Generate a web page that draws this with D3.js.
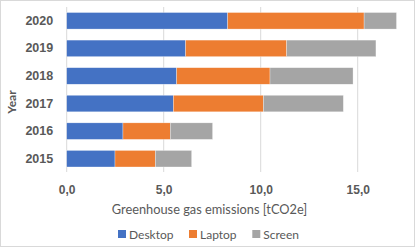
<!DOCTYPE html>
<html>
<head>
<meta charset="utf-8">
<script src="https://cdn.jsdelivr.net/npm/d3@7"></script>
<style>
    body { margin: 0; background: #fff; }
    svg { display: block; font-family: Lato, "Open Sans", sans-serif; }
</style>
</head>
<body>
<svg id="chart"></svg>
<script>
const years = ["2015", "2016", "2017", "2018", "2019", "2020"];
const desktop = [2.49, 2.90, 5.50, 5.67, 6.13, 8.30];
const laptop = [2.08, 2.44, 4.64, 4.81, 5.21, 7.03];
const screen = [1.87, 2.18, 4.12, 4.28, 4.60, 1.67];
const seriesNames = ["Desktop", "Laptop", "Screen"];
const xTicks = [0, 5, 10, 15];

const colors = ["#4472C4", "#ED7D31", "#A5A5A5"];
const textColor = "#595959";

const width = 415, height = 247;
const margin = {top: 7, right: 24, bottom: 75, left: 66.7};
const innerHeight = height - margin.top - margin.bottom;

const svg = d3.select("#chart")
    .attr("width", width)
    .attr("height", height);

// chart border
svg.append("rect")
    .attr("x", 0.5).attr("y", 0.5)
    .attr("width", width - 1).attr("height", height - 1)
    .attr("fill", "#fff")
    .attr("stroke", "#d9d9d9");

const g = svg.append("g")
    .attr("transform", `translate(${margin.left},${margin.top})`);

// Scales
const x = d3.scaleLinear()
    .domain([0, 17.5])
    .range([0, 19.4 * 17.5]);

const y = d3.scaleBand()
    .domain(years.slice().reverse())
    .range([0, innerHeight + 0.5])
    .paddingInner(0.4)
    .paddingOuter(0.2);

// gridlines
g.selectAll("line.grid")
    .data(xTicks)
    .enter()
    .append("line")
    .attr("class", "grid")
    .attr("x1", d => x(d)).attr("x2", d => x(d))
    .attr("y1", 0).attr("y2", innerHeight)
    .attr("stroke", "#d9d9d9")
    .attr("stroke-width", 1);

// stacked data
const rows = years.map((yr, i) => ({year: yr, Desktop: desktop[i], Laptop: laptop[i], Screen: screen[i]}));
const stacked = d3.stack().keys(seriesNames)(rows);

g.selectAll("g.series")
    .data(stacked)
    .enter()
    .append("g")
    .attr("class", "series")
    .attr("fill", (d, i) => colors[i])
    .selectAll("rect")
    .data(d => d)
    .enter()
    .append("rect")
    .attr("x", d => x(d[0]))
    .attr("y", d => y(d.data.year))
    .attr("width", d => x(d[1]) - x(d[0]))
    .attr("height", y.bandwidth())
    .attr("stroke", "#fff")
    .attr("stroke-width", 0.5)
    .attr("stroke-opacity", 0.6);

// Y axis labels
const yAxis = g.append("g")
    .call(d3.axisLeft(y).tickSize(0).tickPadding(13.5));
yAxis.select(".domain").remove();
yAxis.selectAll("text")
    .attr("fill", textColor)
    .style("font-size", "12.5px")
    .style("font-weight", "bold");

// X axis labels
const xAxis = g.append("g")
    .attr("transform", `translate(0,${innerHeight})`)
    .call(d3.axisBottom(x).tickValues(xTicks).tickSize(0).tickPadding(13)
        .tickFormat(d => d3.format(".1f")(d).replace(".", ",")));
xAxis.select(".domain").remove();
xAxis.selectAll("text")
    .attr("fill", textColor)
    .style("font-size", "12px")
    .style("font-weight", "bold");

// axis titles
svg.append("text")
    .attr("x", 209.5)
    .attr("y", 214)
    .attr("text-anchor", "middle")
    .attr("fill", textColor)
    .style("font-size", "12.8px")
    .text("Greenhouse gas emissions [tCO2e]");

svg.append("text")
    .attr("transform", "translate(16,102) rotate(-90)")
    .attr("text-anchor", "middle")
    .attr("fill", textColor)
    .style("font-size", "12px")
    .style("font-weight", "bold")
    .text("Year");

// Legend
const legendX = [118, 189, 252.3];
const legend = svg.append("g");
seriesNames.forEach((name, i) => {
    legend.append("rect")
        .attr("x", legendX[i])
        .attr("y", 230)
        .attr("width", 8)
        .attr("height", 8)
        .attr("fill", colors[i]);
    legend.append("text")
        .attr("x", legendX[i] + 11)
        .attr("y", 238.5)
        .attr("fill", textColor)
        .style("font-size", "12px")
        .text(name);
});
</script>
</body>
</html>
